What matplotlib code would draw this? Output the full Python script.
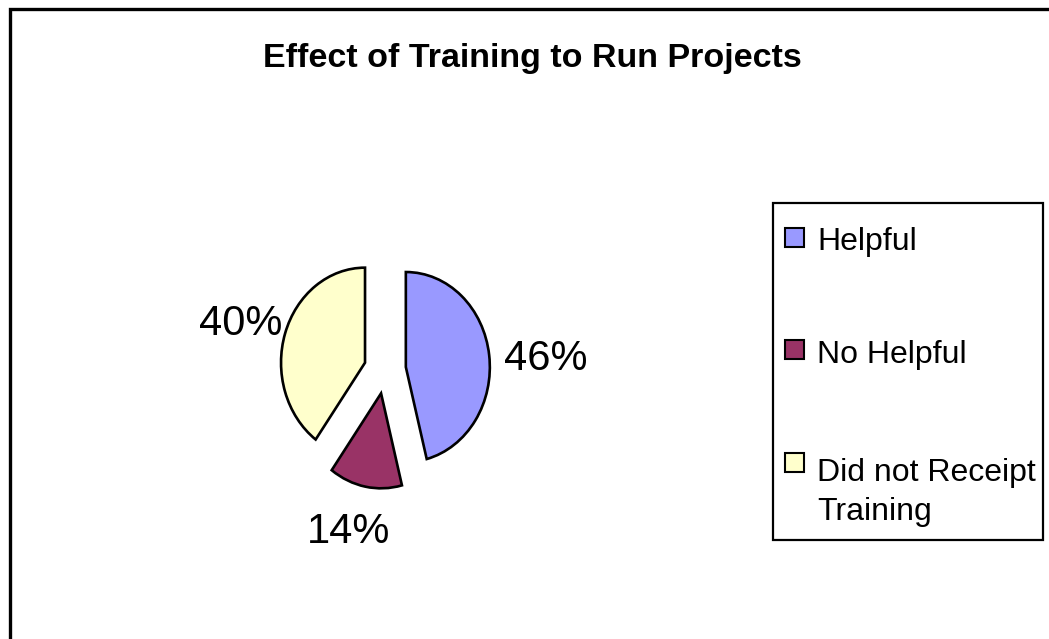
import matplotlib
matplotlib.use("Agg")
import matplotlib.pyplot as plt
from matplotlib.patches import Rectangle

# data
labels = ["Helpful", "No Helpful", "Did not Receipt\nTraining"]
shares = [46, 14, 40]
colors = ["#9999FF", "#993366", "#FFFFCC"]
title = "Effect of Training to Run Projects"

W, H = 1049, 639
plt.rcParams['font.family'] = ['Liberation Sans', 'DejaVu Sans']

fig = plt.figure(figsize=(W / 100, H / 100), dpi=100)


def fx(px):
    return px / W


def fy(py):
    return 1 - py / H


# outer chart border (runs off the right and bottom edges)
fig.patches.append(Rectangle((fx(10), -0.1), 1.2, fy(8.5) + 0.1, transform=fig.transFigure,
                             fill=False, edgecolor='black', linewidth=2.4))

# pie axes: slightly taller than wide, like the source
cx, cy, rx, ry = 385, 370, 84, 95
ax = fig.add_axes([fx(cx - 2 * rx), fy(cy + 2 * ry), 4 * rx / W, 4 * ry / H])
wedges, texts, autotexts = ax.pie(shares, colors=colors, explode=[0.25] * 3, startangle=90,
                                  counterclock=False, autopct='%d%%', pctdistance=1.55,
                                  wedgeprops=dict(edgecolor='black', linewidth=1.9))
# small nudges (pixels) so labels sit where Excel put them
nudges = [(11, 10), (-8, -6), (-1, 7)]
for t, (nx, ny) in zip(autotexts, nudges):
    x, y = t.get_position()
    t.set_position((x + nx / rx, y - ny / ry))
    t.set_fontsize(30)
ax.set_aspect('auto')
ax.set_xlim(-2, 2)
ax.set_ylim(-2, 2)
ax.axis('off')

fig.text(fx(532), fy(67), title, ha='center', va='baseline', fontsize=24.5, fontweight='bold')

# legend box
lx0, ly0, lx1, ly1 = 773, 203, 1043, 540
fig.patches.append(Rectangle((fx(lx0), fy(ly1)), fx(lx1 - lx0), (ly1 - ly0) / H,
                             transform=fig.transFigure, fill=False, edgecolor='black', linewidth=1.6))
for i, (lab, col) in enumerate(zip(labels, colors)):
    yc = 237 + i * 112.5
    fig.patches.append(Rectangle((fx(785), fy(yc + 9.5)), fx(19), 19 / H, transform=fig.transFigure,
                                 facecolor=col, edgecolor='black', linewidth=1.5))
    nl = lab.count("\n")
    fig.text(fx(817), fy(yc + 13 + nl * 45), lab, ha='left', va='baseline', fontsize=23,
             linespacing=1.4)

fig.savefig("out.png", dpi=100)
